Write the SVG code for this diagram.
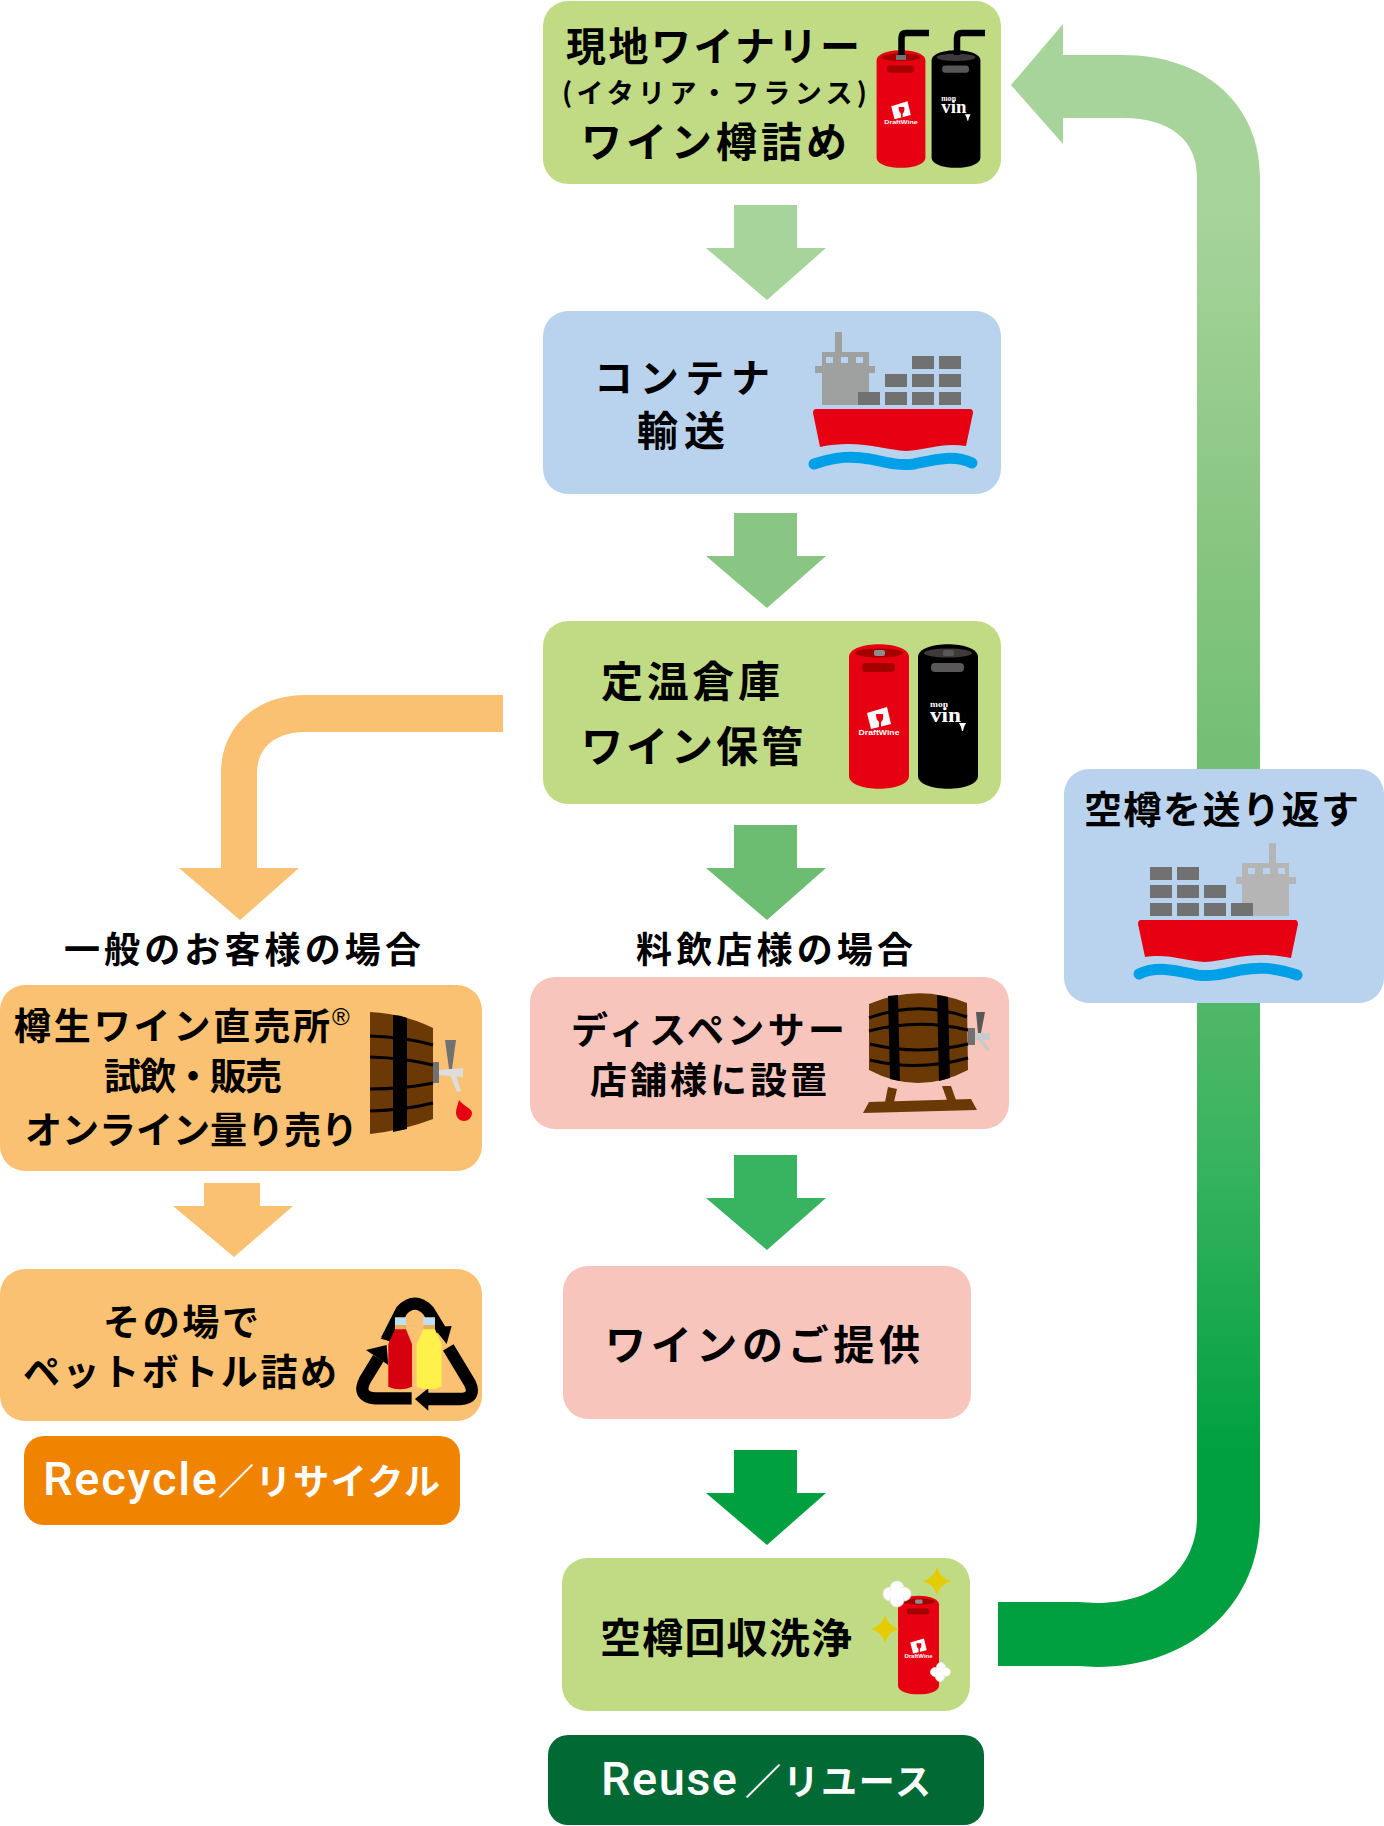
<svg xmlns="http://www.w3.org/2000/svg" width="1384" height="1826" viewBox="0 0 1384 1826">
<style>
.t{font-family:"Noto Sans CJK JP","Noto Sans",sans-serif;font-weight:700;fill:#000}
.w{fill:#fff}
.lat{font-family:Roboto,"Liberation Sans",Arial,sans-serif;font-weight:500}
.green{fill:#C1DB84}.blue{fill:#B9D3EE}.pink{fill:#F7C5BC}.orange{fill:#FAC172}
.hoop{fill:none;stroke:#000;stroke-width:3}
</style>
<defs>
<linearGradient id="backFlow" gradientUnits="userSpaceOnUse" x1="0" y1="25" x2="0" y2="1666">
<stop offset=".11" stop-color="#A7D49B"/><stop offset=".30" stop-color="#8AC683"/><stop offset=".49" stop-color="#6CBD71"/><stop offset=".69" stop-color="#38B35F"/><stop offset=".87" stop-color="#00A040"/>
</linearGradient>
<path id="arrowDown" d="M28 0H91V43H120L61 95L0 43H28Z"/>
<symbol id="kegRed" viewBox="0 0 60 145" width="60" height="145" overflow="visible">
<path d="M0 13C0-4 60-4 60 13V132C60 149 0 149 0 132Z" fill="#E60012"/>
<ellipse cx="30" cy="9" rx="24" ry="4.500" fill="#A40000"/>
<rect x="25" y="6" width="11" height="6" rx="2" fill="#8C8C8C"/>
<rect x="13" y="19" width="33" height="9" rx="4" fill="#A40000"/>
<path d="M18 69L38 63L42 80L22 85Z" fill="#fff"/>
<path d="M27 70H34Q35 76 32 78V83H30V78Q27 76 27 70Z" fill="#E60012"/>
<text x="30" y="91" text-anchor="middle" font-family="'Liberation Sans',sans-serif" font-weight="700" font-size="7.500" textLength="41" lengthAdjust="spacingAndGlyphs" fill="#fff">DraftWine</text>
</symbol>
<symbol id="kegBlack" viewBox="0 0 60 145" width="60" height="145" overflow="visible">
<path d="M0 13C0-4 60-4 60 13V132C60 149 0 149 0 132Z" fill="#000"/>
<ellipse cx="30" cy="9" rx="24" ry="4.500" fill="#3E3A39"/>
<rect x="25" y="6" width="11" height="6" rx="2" fill="#595757"/>
<rect x="13" y="19" width="33" height="9" rx="4" fill="#595757"/>
<text x="12" y="63" font-family="'Liberation Serif',serif" font-weight="700" font-size="9" textLength="18" lengthAdjust="spacingAndGlyphs" fill="#fff">mon</text>
<text x="12" y="78" font-family="'Liberation Serif',serif" font-weight="700" font-size="22" textLength="31" lengthAdjust="spacingAndGlyphs" fill="#fff">vin</text>
<path d="M41 79H48L46 83L45 87H44L43 83Z" fill="#fff"/>
</symbol>
<g id="ship">
<rect x="27" y="0" width="7" height="20"/>
<rect x="14" y="20" width="47" height="53"/>
<rect x="7" y="34" width="60" height="7"/>
<g fill="#727171">
<rect x="50" y="60" width="22" height="13"/><rect x="77" y="60" width="22" height="13"/><rect x="104" y="60" width="22" height="13"/><rect x="131" y="60" width="22" height="13"/>
<rect x="77" y="42" width="22" height="13"/><rect x="104" y="42" width="22" height="13"/><rect x="131" y="42" width="22" height="13"/>
<rect x="104" y="24" width="22" height="13"/><rect x="131" y="24" width="22" height="13"/>
</g>
<path d="M8 77H162Q165 77 165 81L158 114C135 110 118 118 98 119C76 118 50 107 12 115L5 81Q5 77 8 77Z" fill="#E60012"/>
<path d="M6 132C30 124 45 124 62 127C80 131 92 134 106 132C125 128 145 122 164 131" fill="none" stroke="#00A0E9" stroke-width="11" stroke-linecap="round"/>
</g>
<g id="tap">
<rect x="0" y="0" width="6" height="21" fill="#727171"/>
</g>
<path id="sparkle" d="M0-14Q3-3 14 0Q3 3 0 14Q-3 3-14 0Q-3-3 0-14Z" fill="#E5CC00"/>
</defs>

<!-- flow connectors -->
<g id="connectors">
<path d="M1011 85L1063 24V55H1123C1205 55 1260 105 1260 177V1517C1260 1605 1190 1667 1097 1667L1078 1666H998V1602H1078L1097 1603C1160 1603 1197 1565 1197 1517V177C1197 140 1170 118 1123 118H1063V144Z" fill="url(#backFlow)"/>
<path d="M503 695H305C255 695 221 728 221 773V868H179L240 920L299 868H257V773C257 748 275 732 305 732H503Z" fill="#FAC172"/>
<use href="#arrowDown" x="706" y="205" fill="#A7D49B"/>
<use href="#arrowDown" x="706" y="513" fill="#8AC683"/>
<use href="#arrowDown" x="706" y="825" fill="#6CBD71"/>
<use href="#arrowDown" x="706" y="1155" fill="#38B35F"/>
<use href="#arrowDown" x="706" y="1450" fill="#00A040"/>
<path d="M204 1183H260V1206H293L234 1257L173 1206H204Z" fill="#FAC172"/>
</g>

<g id="node-winery">
<rect class="green" x="543" y="1" width="458" height="183" rx="25"/>
<text class="t" x="566" y="61" font-size="40" textLength="294">現地ワイナリー</text>
<text class="t" x="562" y="103" font-size="27" textLength="305">(イタリア・フランス)</text>
<text class="t" x="581" y="157" font-size="41" textLength="266">ワイン樽詰め</text>
<use href="#kegRed" x="876" y="50" width="50" height="118"/>
<use href="#kegBlack" x="931" y="50" width="50" height="118"/>
<path d="M901.500 56V38Q901.500 33 906 33H929M957 56V38Q957 33 961.500 33H985" fill="none" stroke="#000" stroke-width="6.500"/>
<rect x="896" y="55" width="10" height="5" fill="#727171"/>
<rect x="952" y="55" width="10" height="5" fill="#3E3A39"/>
</g>

<g id="node-container">
<rect class="blue" x="543" y="311" width="458" height="183" rx="25"/>
<text class="t" x="594" y="392" font-size="39" textLength="176">コンテナ</text>
<text class="t" x="637" y="446" font-size="41" textLength="88">輸送</text>
<use href="#ship" x="808" y="332" fill="#9FA0A0"/>
<g fill="#B9D3EE"><rect x="826" y="357" width="7" height="6"/><rect x="841" y="357" width="7" height="6"/><rect x="856" y="357" width="7" height="6"/></g>
</g>

<g id="node-storage">
<rect class="green" x="543" y="621" width="458" height="183" rx="25"/>
<text class="t" x="601" y="697" font-size="42" textLength="179">定温倉庫</text>
<text class="t" x="581" y="762" font-size="42" textLength="222">ワイン保管</text>
<use href="#kegRed" x="849" y="644"/>
<use href="#kegBlack" x="918" y="644"/>
</g>

<g id="node-return">
<rect class="blue" x="1064" y="769" width="320" height="234" rx="25"/>
<text class="t" x="1084" y="823" font-size="38" textLength="275">空樽を送り返す</text>
<g transform="translate(1303 843) scale(-1 1)" fill="#B5B5B5"><use href="#ship"/></g>
<g fill="#B9D3EE"><rect x="1248" y="868" width="7" height="6"/><rect x="1263" y="868" width="7" height="6"/><rect x="1278" y="868" width="7" height="6"/></g>
</g>

<g id="node-retail-direct">
<text class="t" x="64" y="963" font-size="36" textLength="357">一般のお客様の場合</text>
<rect class="orange" x="0" y="985" width="482" height="186" rx="25"/>
<text class="t" x="14" y="1040" font-size="37" textLength="316">樽生ワイン直売所</text>
<text x="332" y="1025" font-family="'Liberation Sans',sans-serif" font-size="24">®</text>
<text class="t" x="104" y="1090" font-size="37" textLength="178">試飲・販売</text>
<text class="t" x="25" y="1144" font-size="37" textLength="333">オンライン量り売り</text>
<path d="M370 1012Q405 1014 433 1028V1119Q405 1130 370 1134Z" fill="#6A3906"/>
<path d="M393 1015Q400 1015 407 1018V1129L393 1132Z" fill="#000"/>
<path class="hoop" d="M370 1036Q405 1037 433 1045M370 1057Q405 1058 433 1065M370 1089Q405 1089 433 1083M370 1111Q405 1110 433 1103"/>
<use href="#tap" x="433" y="1062"/>
<path d="M445 1040H456L452 1069H449Z" fill="#727171"/>
<path d="M439 1070L463 1068V1077L439 1075ZM450 1075H456L461 1091L457 1092Z" fill="#DCDDDD"/>
<path d="M459 1100C463 1106 472 1108 472 1113A8 8 0 0 1 456 1113C456 1108 458 1105 459 1100Z" fill="#E60012"/>
</g>

<g id="node-bottling">
<rect class="orange" x="0" y="1269" width="482" height="152" rx="25"/>
<text class="t" x="103" y="1336" font-size="37" textLength="156">その場で</text>
<text class="t" x="23" y="1386" font-size="37" textLength="314">ペットボトル詰め</text>
<g transform="translate(0 1240) scale(.3333)">
<path d="M1160 300L1205 212Q1245 170 1285 212L1322 272M1235 475H1125Q1070 470 1095 420L1135 355M1345 322L1410 430Q1430 475 1380 477H1270" fill="none" stroke="#000" stroke-width="37"/>
<path d="M1300 262L1355 258L1340 312ZM1098 330L1160 315L1165 375ZM1285 445L1245 477L1285 512Z" fill="#000"/>
<path d="M1142 296L1180 262L1195 310Z" fill="#000"/>
<path d="M1185 255V232H1218V255ZM1270 255V232H1305V255Z" fill="#BDE0F5"/>
<path d="M1185 255H1218V268L1236 312V440Q1200 455 1165 440V312L1185 268Z" fill="#D7000F"/>
<path d="M1270 255H1305V268L1325 312V440Q1287 455 1250 440V312L1270 268Z" fill="#FFF04A"/>
<path d="M1185 255H1218V268H1185ZM1270 255H1305V268H1270Z" fill="#E6B05A"/>
</g>
</g>

<g id="tag-recycle">
<rect x="24" y="1436" width="436" height="89" rx="20" fill="#F08300"/>
<text class="t w" y="1495"><tspan class="lat" x="43" font-size="47" textLength="174">Recycle</tspan><tspan x="218" font-size="36" textLength="222">／リサイクル</tspan></text>
</g>

<g id="node-dispenser">
<text class="t" x="636" y="963" font-size="36" textLength="277">料飲店様の場合</text>
<rect class="pink" x="530" y="977" width="479" height="152" rx="25"/>
<text class="t" x="571" y="1044" font-size="37" textLength="274">ディスペンサー</text>
<text class="t" x="590" y="1094" font-size="37" textLength="237">店舗様に設置</text>
<path d="M869 1004Q918 983 967 1003L968 1070Q918 1096 869 1070Z" fill="#6A3906"/>
<path d="M888 996L898 995L900 1081L890 1079ZM937 995L948 997L950 1078L939 1081Z" fill="#000"/>
<path class="hoop" d="M869 1018Q918 1000 967 1017M869 1031Q918 1018 968 1030M870 1044Q918 1056 968 1044M870 1060Q918 1072 968 1058"/>
<rect x="968" y="1028" width="7" height="17" fill="#727171"/>
<path d="M976 1012H985L981 1033H978Z" fill="#595757"/>
<path d="M975 1033H990V1040H983L990 1050L987 1051L978 1040H975Z" fill="#C9CACA"/>
<path d="M888 1087L897 1089L894 1102H885ZM942 1086L951 1086L956 1100H947Z" fill="#6A3906"/>
<path d="M869 1102L971 1099L977 1110L863 1113Z" fill="#6A3906"/>
</g>

<g id="node-serve">
<rect class="pink" x="563" y="1266" width="408" height="153" rx="25"/>
<text class="t" x="605" y="1360" font-size="41" textLength="315">ワインのご提供</text>
</g>

<g id="node-cleaning">
<rect class="green" x="562" y="1558" width="408" height="153" rx="25"/>
<text class="t" x="600" y="1653" font-size="41" textLength="252">空樽回収洗浄</text>
<use href="#kegRed" x="898" y="1595" width="41" height="100"/>
<use href="#sparkle" x="937" y="1581"/>
<use href="#sparkle" x="885" y="1629"/>
<g fill="#fff" stroke="#E6E6E6" stroke-width=".8">
<circle cx="890" cy="1594" r="7"/><circle cx="897" cy="1588" r="7"/><circle cx="904" cy="1594" r="7"/><circle cx="897" cy="1600" r="7"/><circle cx="897" cy="1594" r="7" stroke="none"/>
<circle cx="935" cy="1672" r="4.500"/><circle cx="941" cy="1667" r="4.500"/><circle cx="946" cy="1672" r="4.500"/><circle cx="940" cy="1677" r="4.500"/><circle cx="940" cy="1672" r="4.500" stroke="none"/>
</g>
</g>

<g id="tag-reuse">
<rect x="548" y="1735" width="436" height="90" rx="20" fill="#006934"/>
<text class="t w" y="1795"><tspan class="lat" x="601" font-size="47" textLength="136">Reuse</tspan><tspan x="745" font-size="36" textLength="186">／リユース</tspan></text>
</g>
</svg>
